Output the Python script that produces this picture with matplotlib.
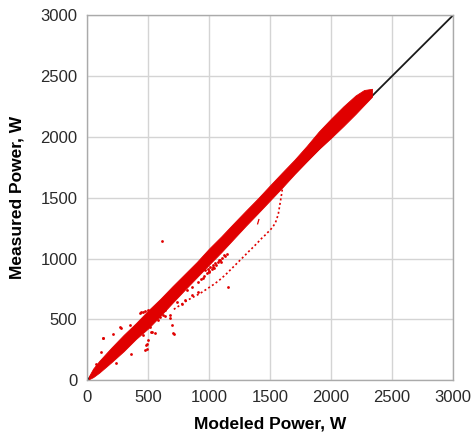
import matplotlib

matplotlib.use("Agg")
import matplotlib.pyplot as plt

plt.rcParams["font.family"] = ["Liberation Sans", "DejaVu Sans"]

RED = "#e00000"

# main dense band of points: modeled power vs lower / upper edge of measured power
band_x = [15, 50, 100, 200, 300, 400, 500, 600, 700, 800, 900, 1000, 1100,
          1200, 1300, 1400, 1500, 1600, 1700, 1800, 1900, 2000, 2100, 2200,
          2270, 2335]
band_lo = [8, 25, 62, 148, 238, 338, 425, 528, 636, 742, 846, 950, 1052,
           1160, 1268, 1372, 1478, 1584, 1694, 1798, 1900, 1992, 2088, 2188,
           2262, 2330]
band_hi = [32, 95, 158, 268, 372, 468, 572, 668, 772, 872, 972, 1082, 1182,
           1288, 1392, 1494, 1602, 1708, 1812, 1925, 2045, 2150, 2250, 2340,
           2385, 2395]

# lower branch leaving the band near 1600 W
branch_x = [1610, 1603, 1596, 1588, 1578, 1568, 1555, 1541, 1520, 1500, 1478,
            1459, 1430, 1404, 1378, 1350, 1322, 1295, 1268, 1240, 1213, 1186,
            1158, 1131, 1110, 1090, 1062, 1035, 1005, 975, 945, 912, 880, 850,
            820, 790, 760, 730, 700]
branch_y = [1640, 1590, 1540, 1490, 1430, 1370, 1325, 1288, 1258, 1233, 1212,
            1192, 1165, 1137, 1110, 1082, 1055, 1027, 1000, 972, 945, 918, 890,
            863, 845, 827, 805, 785, 765, 745, 725, 705, 688, 672, 655, 635,
            615, 595, 575]

# scattered points around the band
pts_x = [617, 1158, 432, 276, 213, 131, 117, 240, 363, 473, 486, 500, 459,
         527, 514, 555, 582, 623, 459, 500, 76, 134, 270, 352, 489, 489, 489,
         530, 694, 716, 639, 680, 776, 803, 858, 912, 445, 475, 600, 640, 680,
         705, 735, 817, 860, 912, 950, 970, 981, 990, 1000, 1010, 1020, 1030,
         1035, 1050, 1060, 1070, 1080, 1090, 1100, 1110, 1120, 1130, 1150,
         1040, 1000, 960, 930]
pts_y = [1145, 767, 553, 433, 376, 343, 233, 142, 219, 247, 288, 329, 370,
         397, 438, 384, 493, 534, 561, 575, 137, 343, 438, 452, 520, 301, 260,
         397, 452, 378, 575, 534, 630, 658, 699, 726, 562, 570, 518, 525, 512,
         386, 640, 740, 770, 808, 840, 905, 877, 915, 900, 930, 915, 945, 932,
         960, 950, 975, 985, 990, 970, 1005, 1030, 1020, 1040, 920, 890, 860,
         830]

# short dash right of the band
dash_x = [1398, 1408]
dash_y = [1285, 1320]

ticks = [0, 500, 1000, 1500, 2000, 2500, 3000]

fig = plt.figure(figsize=(4.73, 4.34), dpi=100)
ax = fig.add_axes([0.184, 0.124, 0.774, 0.841])

ax.plot([0, 3000], [0, 3000], color="#1a1a1a", lw=1.3, zorder=2)
ax.fill_between(band_x, band_lo, band_hi, color=RED, lw=0.6, edgecolor=RED, zorder=3)
ax.plot(branch_x, branch_y, color=RED, lw=1.2, ls=(0, (1.2, 1.5)), zorder=3)
ax.scatter(pts_x, pts_y, s=4, color=RED, lw=0, zorder=3)
ax.plot(dash_x, dash_y, color=RED, lw=0.9, zorder=3)

ax.set_xlim(0, 3000)
ax.set_ylim(0, 3000)
ax.set_xticks(ticks)
ax.set_yticks(ticks)
ax.tick_params(length=0, labelsize=12, colors="#2a2a2a", pad=7)
ax.grid(True, color="#d4d4d4", lw=1.0, zorder=0)
ax.set_axisbelow(True)
for sp in ax.spines.values():
    sp.set_color("#aaaaaa")
    sp.set_linewidth(1.0)

ax.set_xlabel("Modeled Power, W", fontsize=12.5, fontweight="bold", labelpad=8)
ax.set_ylabel("Measured Power, W", fontsize=12.5, fontweight="bold", labelpad=11)

fig.savefig("out.png", dpi=100, facecolor="white")
